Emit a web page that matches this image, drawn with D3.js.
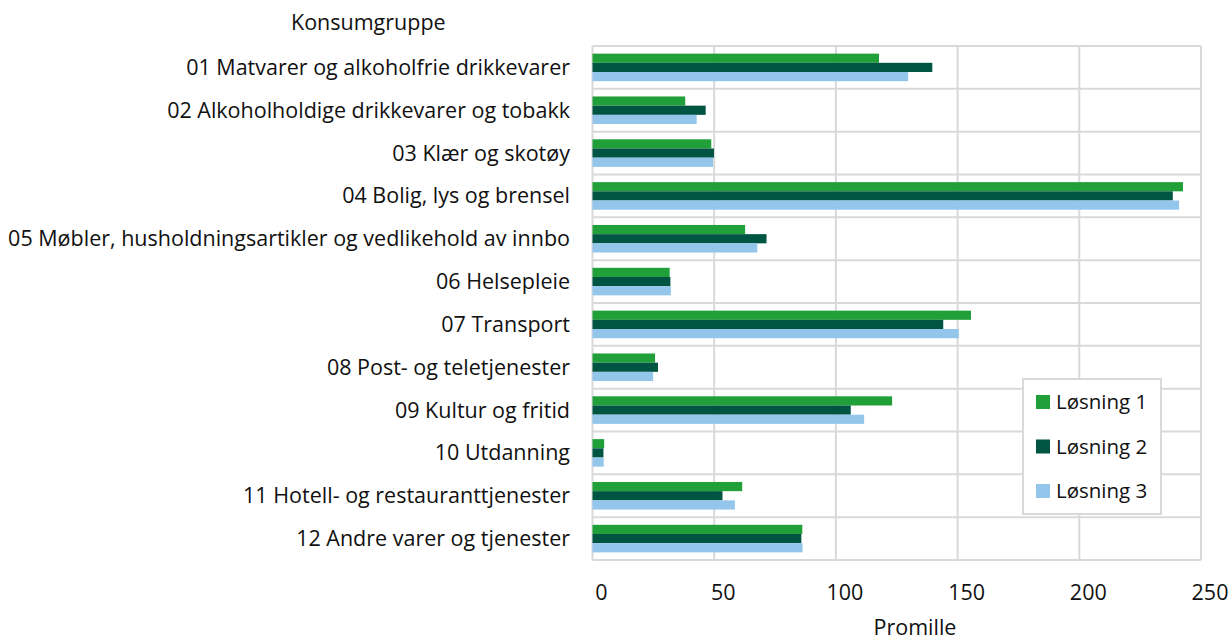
<!DOCTYPE html>
<html>
<head>
<meta charset="utf-8">
<script src="https://cdn.jsdelivr.net/npm/d3@7"></script>
<style>
	body { margin: 0; background: #fff; }
	svg text { font-family: "Open Sans", sans-serif; fill: #111; }
</style>
</head>
<body>
<svg id="chart" width="1232" height="638"></svg>
<script>
var categories = [
	"01 Matvarer og alkoholfrie drikkevarer",
	"02 Alkoholholdige drikkevarer og tobakk",
	"03 Klær og skotøy",
	"04 Bolig, lys og brensel",
	"05 Møbler, husholdningsartikler og vedlikehold av innbo",
	"06 Helsepleie",
	"07 Transport",
	"08 Post- og teletjenester",
	"09 Kultur og fritid",
	"10 Utdanning",
	"11 Hotell- og restauranttjenester",
	"12 Andre varer og tjenester"
];
var seriesNames = ["Løsning 1", "Løsning 2", "Løsning 3"];
var losning1 = [117.7, 38.1, 48.8, 242.6, 62.7, 31.7, 155.5, 25.7, 123.1, 4.8, 61.5, 86.2];
var losning2 = [139.6, 46.5, 49.9, 238.4, 71.5, 32.0, 144.1, 26.9, 106.1, 4.5, 53.4, 85.8];
var losning3 = [129.7, 42.8, 49.5, 241.0, 67.7, 32.2, 150.5, 24.9, 111.6, 4.6, 58.5, 86.3];
var xTicks = [0, 50, 100, 150, 200, 250];
var colors = ["#21a03a", "#005442", "#94c6ec"];

var svg = d3.select("#chart");
var plotLeft = 592.5, plotRight = 1201, plotTop = 46, plotBottom = 560;
var fs = 21.5;

var x = d3.scaleLinear().domain([0, 250]).range([plotLeft, plotRight]);
var y = d3.scaleBand().domain(categories).range([plotTop, plotBottom]).paddingInner(0).paddingOuter(0);
var inner = d3.scaleBand().domain(seriesNames).range([0, y.bandwidth()]).paddingInner(0).paddingOuter(0.83);

// grid
var grid = svg.append("g");
grid.selectAll("line.v").data(xTicks).enter().append("line")
	.attr("x1", function (d) { return x(d); }).attr("x2", function (d) { return x(d); })
	.attr("y1", plotTop).attr("y2", plotBottom)
	.attr("stroke", "#d9d9d9").attr("stroke-width", 2);
var hpos = categories.map(function (c) { return y(c); }).concat([plotBottom]);
grid.selectAll("line.h").data(hpos).enter().append("line")
	.attr("x1", plotLeft).attr("x2", plotRight)
	.attr("y1", function (d) { return d; }).attr("y2", function (d) { return d; })
	.attr("stroke", "#d9d9d9").attr("stroke-width", 2);

// bars
var rows = categories.map(function (c, i) {
	return { cat: c, vals: [losning1[i], losning2[i], losning3[i]] };
});
var groups = svg.append("g").selectAll("g").data(rows).enter().append("g")
	.attr("transform", function (d) { return "translate(0," + y(d.cat) + ")"; });
groups.selectAll("rect").data(function (d) {
	return d.vals.map(function (v, j) { return { name: seriesNames[j], v: v, j: j }; });
}).enter().append("rect")
	.attr("x", x(0))
	.attr("y", function (d) { return inner(d.name); })
	.attr("width", function (d) { return x(d.v) - x(0); })
	.attr("height", inner.bandwidth())
	.attr("fill", function (d) { return colors[d.j]; });

// category labels
svg.append("g").selectAll("text").data(categories).enter().append("text")
	.attr("x", 570)
	.attr("y", function (d) { return y(d) + y.bandwidth() / 2; })
	.attr("dy", "0.35em")
	.attr("text-anchor", "end")
	.attr("font-size", fs)
	.text(function (d) { return d; });

svg.append("text").attr("x", 291).attr("y", 22).attr("dy", "0.35em")
	.attr("font-size", fs).text("Konsumgruppe");

// x tick labels
svg.append("g").selectAll("text").data(xTicks).enter().append("text")
	.attr("x", function (d) { return x(d) + 9; })
	.attr("y", 592).attr("dy", "0.35em")
	.attr("text-anchor", "middle").attr("font-size", fs)
	.text(function (d) { return d; });

svg.append("text").attr("x", 915).attr("y", 627).attr("dy", "0.35em")
	.attr("text-anchor", "middle").attr("font-size", fs).text("Promille");

// legend
var lg = svg.append("g");
lg.append("rect").attr("x", 1023).attr("y", 379).attr("width", 138).attr("height", 135)
	.attr("fill", "#fff").attr("stroke", "#d9d9d9").attr("stroke-width", 2);
var items = lg.selectAll("g").data(seriesNames).enter().append("g")
	.attr("transform", function (d, i) { return "translate(1036," + (402 + i * 44.5) + ")"; });
items.append("rect").attr("x", 0).attr("y", -7).attr("width", 14).attr("height", 14)
	.attr("fill", function (d, i) { return colors[i]; });
items.append("text").attr("x", 20).attr("y", 0).attr("dy", "0.35em")
	.attr("font-size", 20.5).text(function (d) { return d; });
</script>
</body>
</html>
